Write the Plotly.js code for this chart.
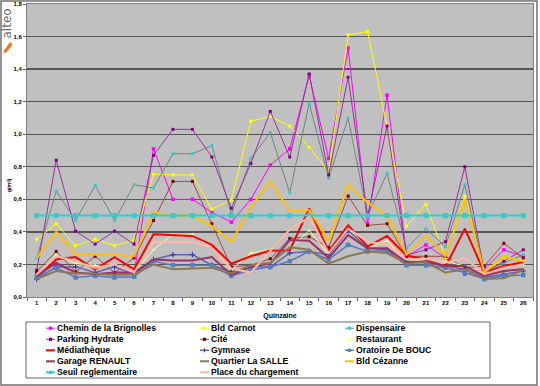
<!DOCTYPE html>
<html><head><meta charset="utf-8">
<script src="https://cdn.plot.ly/plotly-3.0.1.min.js"></script>
<style>html,body{margin:0;padding:0;background:#fff;}#chart{width:540px;height:386px;}</style>
</head><body><div id="chart"></div>
<script>
// ---- data ----
const quinzaines = ['1','2','3','4','5','6','7','8','9','10','11','12','13','14','15','16','17','18','19','20','21','22','23','24','25','26'];
const cheminBrignolles = [0.15,0.20,0.15,0.14,0.15,0.14,0.91,0.60,0.60,0.52,0.46,0.60,0.81,0.91,1.36,0.85,1.53,0.45,1.24,0.25,0.32,0.24,0.14,0.17,0.29,0.25];
const bldCarnot = [0.355,0.45,0.315,0.355,0.315,0.35,0.755,0.75,0.75,0.54,0.595,1.08,1.11,1.05,0.92,0.77,1.61,1.63,1.05,0.435,0.57,0.24,0.62,0.16,0.23,0.23];
const dispensaire = [0.24,0.65,0.47,0.685,0.47,0.69,0.67,0.88,0.88,0.93,0.51,0.85,1.01,0.64,1.19,0.73,1.10,0.50,0.76,0.30,0.42,0.31,0.69,0.15,0.21,0.26];
const parkingHydrate = [0.165,0.84,0.405,0.325,0.405,0.325,0.87,1.03,1.03,0.86,0.545,0.82,1.14,0.86,1.37,0.75,1.35,0.50,1.05,0.257,0.29,0.34,0.80,0.15,0.22,0.29];
const cite = [0.155,0.28,0.155,0.25,0.15,0.24,0.47,0.71,0.71,0.45,0.185,0.195,0.235,0.36,0.37,0.305,0.62,0.44,0.45,0.25,0.25,0.25,0.18,0.19,0.33,0.24];
const restaurant = [0.13,0.26,0.205,0.195,0.195,0.15,0.29,0.385,0.385,0.30,0.165,0.27,0.29,0.29,0.41,0.26,0.42,0.30,0.345,0.22,0.22,0.22,0.19,0.14,0.18,0.20];
const mediatheque = [0.12,0.23,0.245,0.17,0.245,0.17,0.385,0.38,0.375,0.32,0.205,0.25,0.285,0.285,0.545,0.28,0.44,0.31,0.375,0.255,0.23,0.185,0.42,0.15,0.19,0.215];
const gymnase = [0.11,0.185,0.185,0.15,0.185,0.14,0.23,0.26,0.26,0.195,0.155,0.185,0.185,0.27,0.28,0.26,0.41,0.30,0.29,0.22,0.21,0.19,0.17,0.12,0.14,0.16];
const oratoireBouc = [0.12,0.18,0.12,0.13,0.12,0.125,0.22,0.195,0.195,0.195,0.13,0.165,0.185,0.22,0.28,0.23,0.32,0.28,0.285,0.195,0.195,0.18,0.15,0.11,0.13,0.135];
const garageRenault = [0.13,0.21,0.15,0.14,0.15,0.15,0.23,0.225,0.225,0.245,0.135,0.185,0.205,0.35,0.345,0.24,0.38,0.30,0.30,0.21,0.22,0.19,0.19,0.13,0.16,0.17];
const quartierSalle = [0.11,0.16,0.145,0.145,0.135,0.14,0.20,0.17,0.175,0.18,0.145,0.195,0.21,0.305,0.29,0.205,0.25,0.28,0.27,0.205,0.215,0.15,0.17,0.11,0.115,0.165];
const bldCezanne = [0.24,0.40,0.26,0.26,0.26,0.25,0.52,0.50,0.50,0.435,0.34,0.55,0.71,0.53,0.535,0.345,0.69,0.58,0.50,0.26,0.38,0.25,0.60,0.15,0.25,0.22];
const seuilReglementaire = [0.5,0.5,0.5,0.5,0.5,0.5,0.5,0.5,0.5,0.5,0.5,0.5,0.5,0.5,0.5,0.5,0.5,0.5,0.5,0.5,0.5,0.5,0.5,0.5,0.5,0.5];
const placeChargement = [0.14,0.25,0.22,0.18,0.20,0.15,0.34,0.34,0.34,0.30,0.175,0.15,0.28,0.415,0.49,0.27,0.42,0.34,0.32,0.23,0.235,0.21,0.24,0.14,0.18,0.20];
const seriesNames = ['Chemin de la Brignolles','Bld Carnot','Dispensaire','Parking Hydrate','Cité','Restaurant','Médiathèque','Gymnase','Oratoire De BOUC','Garage RENAULT','Quartier La SALLE','Bld Cézanne','Seuil reglementaire','Place du chargement'];
const yTitle = 'g/m²/j';
const xTitle = 'Quinzaine';
const logoText = 'alteo';

// ---- styles ----
const seriesValues = [cheminBrignolles,bldCarnot,dispensaire,parkingHydrate,cite,restaurant,mediatheque,gymnase,oratoireBouc,garageRenault,quartierSalle,bldCezanne,seuilReglementaire,placeChargement];
const styles = [
  {c:'#FF00FF', w:1, m:'square', mc:'#FF00FF', ms:3.5},
  {c:'#FFFF00', w:1, m:'square', mc:'#FFFF00', ms:3},
  {c:'#6E8484', w:1, m:'square', mc:'#33CCCC', ms:3},
  {c:'#993399', w:1, m:'square', mc:'#800080', ms:3},
  {c:'#A04848', w:1, m:'square', mc:'#800000', ms:3},
  {c:'#FFFF99', w:1, m:'triangle-up', mc:'#FFFF99', ms:3},
  {c:'#FF0000', w:2, m:null},
  {c:'#6464B4', w:1.5, m:'cross-thin', mc:'#333399', ms:4},
  {c:'#5577C4', w:1.5, m:'square', mc:'#4F81BD', ms:4.5},
  {c:'#993366', w:2, m:null},
  {c:'#8C7853', w:2, m:null},
  {c:'#FFC000', w:2, m:null},
  {c:'#33CCCC', w:2, m:'square', mc:'#33CCCC', ms:5},
  {c:'#FFB8A8', w:2, m:null}
];

const traces = seriesValues.map((vals, i) => {
  const s = styles[i];
  const t = {
    type:'scatter', x: quinzaines, y: vals, name: seriesNames[i],
    mode: s.m ? 'lines+markers' : 'lines',
    line: {color: s.c, width: s.w},
    showlegend: false, hoverinfo:'skip'
  };
  if (s.m) t.marker = {symbol: s.m, color: s.mc, size: s.ms, line:{width: s.m==='cross-thin'?1:0, color:s.mc}};
  return t;
});

// ---- layout geometry ----
const L = 27, T = 4, W = 506, H = 293, FW = 540, FH = 386;
const px = x => (x - L) / W;
const py = y => (T + H - y) / H;

const shapes = [];
const annotations = [];

// outer frame
shapes.push({type:'rect', xref:'paper', yref:'paper', x0:px(1), x1:px(537), y0:py(1), y1:py(385), line:{color:'#707070', width:1.5}, fillcolor:'rgba(0,0,0,0)', layer:'below'});
// legend box
shapes.push({type:'rect', xref:'paper', yref:'paper', x0:px(26), x1:px(490), y0:py(322), y1:py(378), line:{color:'#666', width:1}, fillcolor:'#FFFFFF'});

const colX = [57, 211, 356];
const rowY = [328.2, 339.3, 350.3, 361.3, 372.3];
seriesNames.forEach((nm, i) => {
  const s = styles[i];
  const tx = colX[i % 3], ty = rowY[Math.floor(i / 3)];
  shapes.push({type:'line', xref:'paper', yref:'paper', x0:px(tx-11), x1:px(tx-2), y0:py(ty), y1:py(ty), line:{color:s.c, width:Math.min(s.w,2)}});
  if (s.m) {
    const cx = tx - 6.5, r = 1.6;
    if (s.m === 'cross-thin') {
      shapes.push({type:'line', xref:'paper', yref:'paper', x0:px(cx), x1:px(cx), y0:py(ty-2), y1:py(ty+2), line:{color:s.mc, width:1}});
    } else {
      shapes.push({type:'rect', xref:'paper', yref:'paper', x0:px(cx-r), x1:px(cx+r), y0:py(ty-r), y1:py(ty+r), line:{width:0}, fillcolor:s.mc});
    }
  }
  annotations.push({text:nm, xref:'paper', yref:'paper', x:px(tx-2), y:py(ty), xanchor:'left', yanchor:'middle', showarrow:false,
    font:{family:'Liberation Sans, Arial, sans-serif', size:8.7, weight:'bold', color:'#000'}});
});

// y axis title
annotations.push({text:yTitle, xref:'paper', yref:'paper', x:px(9), y:py(185), textangle:-90, showarrow:false, xanchor:'center', yanchor:'middle',
  font:{family:'Liberation Sans, Arial, sans-serif', size:5, weight:'bold', color:'#000'}});
// logo
annotations.push({text:logoText, xref:'paper', yref:'paper', x:px(6.5), y:py(24), textangle:-90, showarrow:false, xanchor:'center', yanchor:'middle',
  font:{family:'DejaVu Sans, sans-serif', size:12, color:'#6a6a6a'}});
shapes.push({type:'path', xref:'paper', yref:'paper', path:'M ' + px(3)+','+py(52)+' L '+px(10)+','+py(42)+' L '+px(12.5)+','+py(44.5)+' L '+px(6)+','+py(53)+' Z',
  fillcolor:'#F07820', line:{width:0}});

const layout = {
  width: FW, height: FH,
  margin: {l:L, r:FW-L-W, t:T, b:FH-T-H, pad:0},
  paper_bgcolor:'#FFFFFF', plot_bgcolor:'#C0C0C0',
  separators: ',.',
  showlegend: false,
  font: {family:'Liberation Sans, Arial, sans-serif', color:'#000'},
  xaxis: {
    type:'category', range:[-0.5, 25.5], tickson:'boundaries', ticks:'outside', ticklen:3, tickcolor:'#606060',
    showgrid:false, showline:true, linecolor:'#808080', linewidth:1, mirror:true,
    tickfont:{size:6, weight:'bold'},
    title:{text:xTitle, font:{size:7, weight:'bold'}, standoff:7}
  },
  yaxis: {
    range:[0, 1.8], dtick:0.2, tick0:0, tickformat:'.1f', ticks:'outside', ticklen:3, tickcolor:'#606060',
    showgrid:true, gridcolor:'#555555', gridwidth:1.4, zeroline:false,
    showline:true, linecolor:'#808080', linewidth:1, mirror:true,
    tickfont:{size:6, weight:'bold'}
  },
  shapes: shapes,
  annotations: annotations
};

Plotly.newPlot('chart', traces, layout, {staticPlot:true, displayModeBar:false});
</script>
</body></html>
